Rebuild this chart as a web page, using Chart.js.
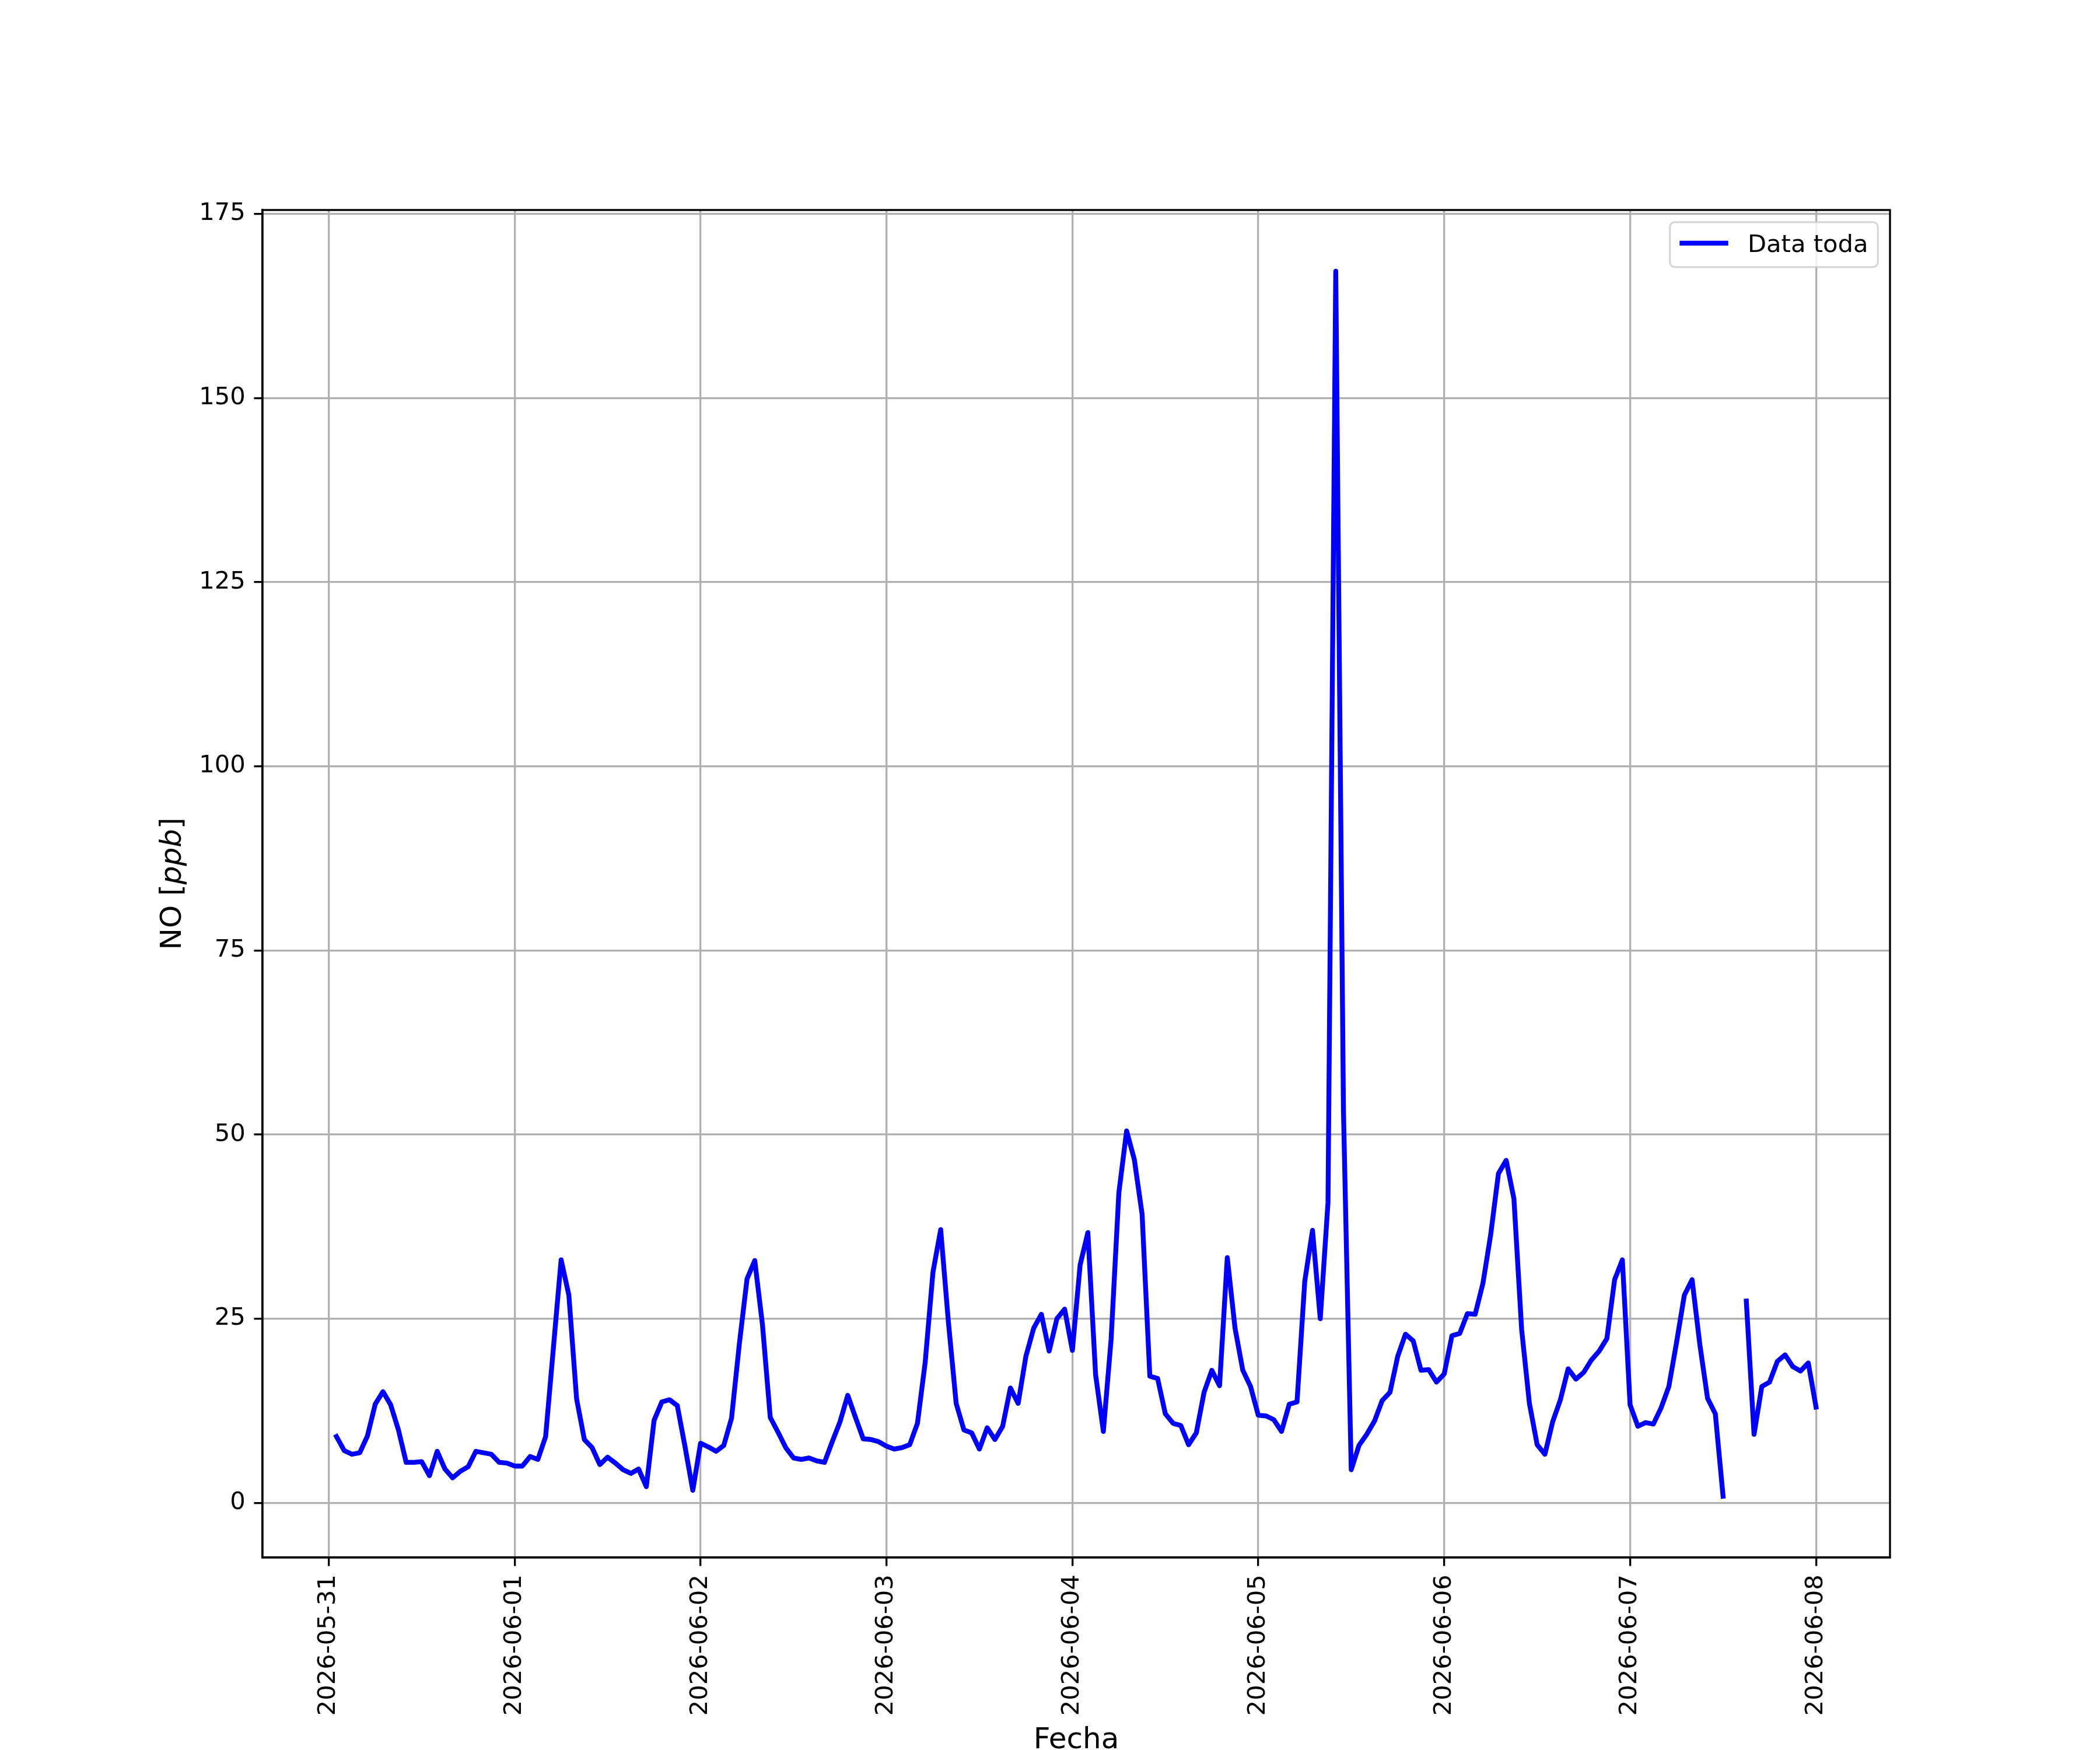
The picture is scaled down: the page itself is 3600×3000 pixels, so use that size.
<!DOCTYPE html>
<html>
<head>
<meta charset="utf-8">
<script src="https://cdn.jsdelivr.net/npm/chart.js@4.4.1/dist/chart.umd.min.js"></script>
<style>
html,body{margin:0;padding:0;background:#ffffff;}
canvas{display:block;}
</style>
</head>
<body>
<canvas id="c" width="3600" height="3000"></canvas>
<script>
// ---------------- data ----------------
const dateLabels = ['2026-05-31','2026-06-01','2026-06-02','2026-06-03','2026-06-04','2026-06-05','2026-06-06','2026-06-07','2026-06-08'];
const firstHour = 1; // first hourly sample: 2026-05-31 01:00
// hourly NO [ppb], grouped by calendar day
const no_0531 = [9.0,7.1,6.6,6.8,9.1,13.4,15.1,13.3,9.9,5.5,5.5,5.6,3.7,7.0,4.6,3.4,4.3,4.9,7.0,6.8,6.6,5.5,5.4];
const no_0601 = [5.0,5.0,6.3,5.9,9.0,21.0,33.0,28.2,14.1,8.6,7.5,5.2,6.2,5.4,4.5,4.0,4.6,2.2,11.2,13.7,14.0,13.2,7.6,1.7];
const no_0602 = [8.1,7.6,7.0,7.8,11.5,21.5,30.4,32.9,24.1,11.6,9.6,7.5,6.1,5.9,6.1,5.7,5.5,8.3,11.0,14.6,11.6,8.7,8.6,8.3];
const no_0603 = [7.7,7.3,7.5,7.9,10.8,19.1,31.3,37.1,24.5,13.5,9.9,9.5,7.3,10.2,8.6,10.4,15.6,13.5,19.9,23.7,25.6,20.6,25.0,26.3];
const no_0604 = [20.7,32.3,36.7,17.4,9.7,22.2,42.1,50.5,46.6,39.2,17.2,16.9,12.1,10.8,10.5,7.9,9.5,15.0,18.0,15.9,33.3,23.7,18.0,15.8];
const no_0605 = [11.9,11.8,11.3,9.7,13.4,13.7,30.1,37.0,25.0,40.8,167.2,53.0,4.5,7.8,9.3,11.1,13.9,15.0,19.9,22.9,22.0,18.0,18.1,16.4];
const no_0606 = [17.5,22.7,23.0,25.7,25.6,29.8,36.4,44.7,46.5,41.3,23.5,13.5,7.9,6.6,11.0,14.0,18.2,16.8,17.7,19.4,20.6,22.3,30.3,33.0];
const no_0607 = [13.3,10.4,10.9,10.7,12.9,15.8,21.8,28.2,30.3,21.5,14.2,12.1,0.9,null,null,27.4,9.3,15.8,16.4,19.2,20.1,18.5,17.9,19.0];
const no_0608 = [13.0];
const yTicks = [0,25,50,75,100,125,150,175];
const seriesLabel = 'Data toda';
const xTitle = 'Fecha';
const yTitleParts = [['NO [', false], ['ppb', true], [']', false]];

// ---------------- build ----------------
const allValues = [].concat(no_0531,no_0601,no_0602,no_0603,no_0604,no_0605,no_0606,no_0607,no_0608);
const points = allValues.map((v,i)=>({x: firstHour + i, y: v}));
const xs = points.map(p=>p.x);
const ys = allValues.filter(v=>v!==null);
const xMinD = Math.min(...xs), xMaxD = Math.max(...xs);
const yMinD = Math.min(...ys), yMaxD = Math.max(...ys);
const xPad = 0.05*(xMaxD-xMinD), yPad = 0.05*(yMaxD-yMinD);

const PT = 300/72;
const FONT = '"DejaVu Sans", "Liberation Sans", sans-serif';
const tickFont = {family: FONT, size: 10*PT};
const LW = 0.8*PT;

const framePlugin = {
  id: 'frame',
  afterDatasetsDraw(chart){
    const ctx = chart.ctx, a = chart.chartArea;
    ctx.save();
    // spines
    ctx.strokeStyle = '#000000';
    ctx.lineWidth = LW;
    ctx.lineJoin = 'miter';
    ctx.strokeRect(a.left, a.top, a.right-a.left, a.bottom-a.top);
    // legend (upper right, inside axes)
    const fs = 10*PT;
    ctx.font = fs + 'px ' + FONT;
    const tw = ctx.measureText(seriesLabel).width;
    const pad = 0.4*fs, hl = 2*fs, htp = 0.8*fs, bap = 0.5*fs;
    const w = pad + hl + htp + tw + pad;
    const h = 77;
    const x1 = a.right - bap, x0 = x1 - w;
    const y0 = a.top + bap;
    const r = 0.2*fs;
    ctx.beginPath();
    ctx.moveTo(x0+r, y0);
    ctx.lineTo(x1-r, y0); ctx.arcTo(x1, y0, x1, y0+r, r);
    ctx.lineTo(x1, y0+h-r); ctx.arcTo(x1, y0+h, x1-r, y0+h, r);
    ctx.lineTo(x0+r, y0+h); ctx.arcTo(x0, y0+h, x0, y0+h-r, r);
    ctx.lineTo(x0, y0+r); ctx.arcTo(x0, y0, x0+r, y0, r);
    ctx.closePath();
    ctx.fillStyle = 'rgba(255,255,255,0.8)';
    ctx.fill();
    ctx.strokeStyle = 'rgba(204,204,204,0.8)';
    ctx.lineWidth = LW;
    ctx.stroke();
    const ds = chart.data.datasets[0];
    ctx.strokeStyle = ds.borderColor;
    ctx.lineWidth = ds.borderWidth;
    ctx.lineCap = 'butt';
    ctx.beginPath();
    ctx.moveTo(x0+pad, y0+36);
    ctx.lineTo(x0+pad+hl, y0+36);
    ctx.stroke();
    ctx.fillStyle = '#000000';
    ctx.textAlign = 'left';
    ctx.textBaseline = 'alphabetic';
    ctx.fillText(ds.label, x0+pad+hl+htp, y0+51);
    ctx.restore();
  },
  afterDraw(chart){
    const ctx = chart.ctx, a = chart.chartArea;
    ctx.save();
    ctx.fillStyle = '#000000';
    const fs = 12*PT;
    // x title
    ctx.font = fs + 'px ' + FONT;
    ctx.textAlign = 'center';
    ctx.textBaseline = 'alphabetic';
    ctx.fillText(xTitle, (a.left+a.right)/2, 2997);
    // y title with italic part
    ctx.translate(297, (a.top+a.bottom)/2);
    ctx.rotate(-Math.PI/2);
    ctx.textBaseline = 'middle';
    ctx.textAlign = 'left';
    let total = 0;
    const widths = yTitleParts.map(([t,it])=>{
      ctx.font = (it?'italic ':'') + fs + 'px ' + FONT;
      const m = ctx.measureText(t).width; total += m; return m;
    });
    let x = -total/2;
    yTitleParts.forEach(([t,it],i)=>{
      ctx.font = (it?'italic ':'') + fs + 'px ' + FONT;
      ctx.fillText(t, x, 0);
      x += widths[i];
    });
    ctx.restore();
  }
};

new Chart(document.getElementById('c'), {
  type: 'line',
  data: {
    datasets: [{
      label: seriesLabel,
      data: points,
      borderColor: '#0000ff',
      backgroundColor: '#0000ff',
      borderWidth: 2*PT,
      borderCapStyle: 'square',
      borderJoinStyle: 'round',
      pointRadius: 0,
      pointHoverRadius: 0,
      tension: 0,
      spanGaps: false,
      fill: false
    }]
  },
  options: {
    responsive: false,
    devicePixelRatio: 1,
    animation: false,
    events: [],
    parsing: true,
    layout: {padding: {left: 0, top: 360, right: 360, bottom: 0}},
    plugins: {legend: {display: false}, tooltip: {enabled: false}, title: {display: false}},
    scales: {
      x: {
        type: 'linear',
        position: 'bottom',
        min: xMinD - xPad,
        max: xMaxD + xPad,
        afterBuildTicks(scale){ scale.ticks = dateLabels.map((_, i) => ({value: i*24})); },
        afterFit(scale){ scale.height = 330; },
        grid: {color: '#b0b0b0', lineWidth: LW, drawTicks: true, tickLength: 3.5*PT, tickColor: '#000000', tickWidth: LW},
        border: {display: true, color: '#000000', width: LW},
        ticks: {
          autoSkip: false, minRotation: 90, maxRotation: 90, padding: 3.5*PT,
          color: '#000000', font: tickFont,
          callback: (v) => dateLabels[Math.round(v/24)]
        }
      },
      y: {
        type: 'linear',
        position: 'left',
        min: yMinD - yPad,
        max: yMaxD + yPad,
        afterBuildTicks(scale){ scale.ticks = yTicks.map(v => ({value: v})); },
        afterFit(scale){ scale.width = 450; },
        grid: {color: '#b0b0b0', lineWidth: LW, drawTicks: true, tickLength: 3.5*PT, tickColor: '#000000', tickWidth: LW},
        border: {display: true, color: '#000000', width: LW},
        ticks: {padding: 3.5*PT, color: '#000000', font: tickFont, callback: (v) => String(v)}
      }
    }
  },
  plugins: [framePlugin]
});
</script>
</body>
</html>
